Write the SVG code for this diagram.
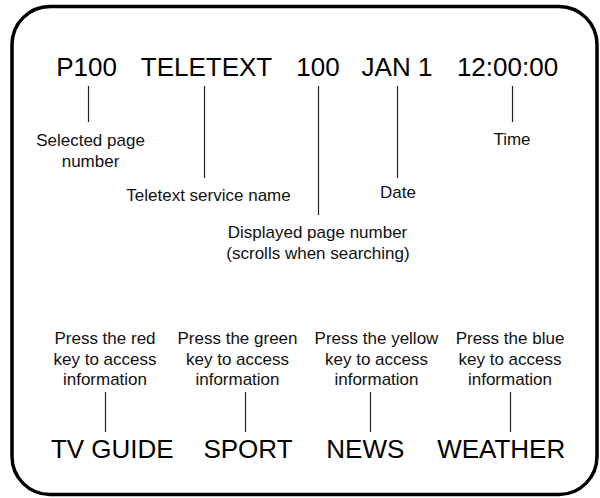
<svg xmlns="http://www.w3.org/2000/svg" width="600" height="498" viewBox="0 0 600 498">
<style>
.big{font-family:"Liberation Sans",Arial,sans-serif;font-size:26px;fill:#000;text-anchor:middle}
.sm{font-family:"Liberation Sans",Arial,sans-serif;font-size:17px;fill:#111;text-anchor:middle}
.ln{stroke:#222;stroke-width:1.2;fill:none}
</style>
<rect x="12" y="6.5" width="585" height="488" rx="38" ry="38" fill="#fff" stroke="#000" stroke-width="3.5"/>
<g id="connectors">
<line class="ln" x1="88.5" y1="86" x2="88.5" y2="122"/>
<line class="ln" x1="204.5" y1="86" x2="204.5" y2="178"/>
<line class="ln" x1="318.5" y1="86" x2="318.5" y2="215"/>
<line class="ln" x1="397.5" y1="86" x2="397.5" y2="178"/>
<line class="ln" x1="512.5" y1="86" x2="512.5" y2="122"/>
<line class="ln" x1="105.5" y1="392" x2="105.5" y2="432"/>
<line class="ln" x1="245.5" y1="392" x2="245.5" y2="432"/>
<line class="ln" x1="370.5" y1="392" x2="370.5" y2="432"/>
<line class="ln" x1="510.5" y1="392" x2="510.5" y2="432"/>
</g>
<g id="p100"><text class="big" x="86.5" y="76">P100</text></g>
<g id="teletext"><text class="big" x="206.5" y="76">TELETEXT</text></g>
<g id="page100"><text class="big" x="318" y="76">100</text></g>
<g id="date"><text class="big" x="397" y="76">JAN 1</text></g>
<g id="time"><text class="big" x="507.5" y="76">12:00:00</text></g>
<g id="lbl-selected"><text class="sm" x="90.5" y="146">Selected page</text><text class="sm" x="90.5" y="166.5">number</text></g>
<g id="lbl-service"><text class="sm" x="208.5" y="200.5">Teletext service name</text></g>
<g id="lbl-displayed"><text class="sm" x="317.5" y="238">Displayed page number</text><text class="sm" x="318" y="258.5">(scrolls when searching)</text></g>
<g id="lbl-date"><text class="sm" x="398" y="197.5">Date</text></g>
<g id="lbl-time"><text class="sm" x="512" y="144.5">Time</text></g>
<g id="lbl-red"><text class="sm" x="105" y="344">Press the red</text><text class="sm" x="105" y="364.5">key to access</text><text class="sm" x="105" y="385">information</text></g>
<g id="lbl-green"><text class="sm" x="237.5" y="344">Press the green</text><text class="sm" x="237.5" y="364.5">key to access</text><text class="sm" x="237.5" y="385">information</text></g>
<g id="lbl-yellow"><text class="sm" x="376.5" y="344">Press the yellow</text><text class="sm" x="376.5" y="364.5">key to access</text><text class="sm" x="376.5" y="385">information</text></g>
<g id="lbl-blue"><text class="sm" x="510" y="344">Press the blue</text><text class="sm" x="510" y="364.5">key to access</text><text class="sm" x="510" y="385">information</text></g>
<g id="tvguide"><text class="big" x="112.3" y="458">TV GUIDE</text></g>
<g id="sport"><text class="big" x="248" y="458">SPORT</text></g>
<g id="news"><text class="big" x="365.3" y="458">NEWS</text></g>
<g id="weather"><text class="big" x="501.2" y="458">WEATHER</text></g>
</svg>
